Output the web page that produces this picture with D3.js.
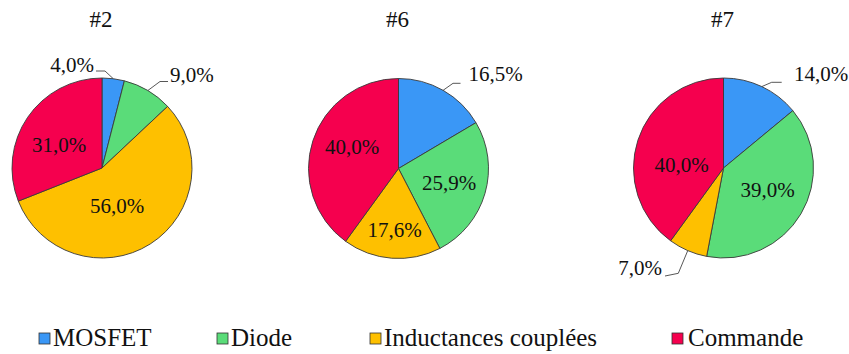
<!DOCTYPE html>
<html>
<head>
<meta charset="utf-8">
<script src="https://cdn.jsdelivr.net/npm/d3@7/dist/d3.min.js"></script>
</head>
<body style="margin:0; background:#fff">
<svg id="chart" width="849" height="354" style="display:block"></svg>
<script>
// Component categories (slice order, clockwise from 12 o'clock)
const categories = ["MOSFET", "Diode", "Inductances couplées", "Commande"];
const colors = ["#3a97f6", "#5adc79", "#fec000", "#f5004e"];

// Share of each component (%) for the three configurations
const titles = ["#2", "#6", "#7"];
const values2 = [4.0, 9.0, 56.0, 31.0];
const values6 = [16.5, 25.9, 17.6, 40.0];
const values7 = [14.0, 39.0, 7.0, 40.0];
const seriesValues = [values2, values6, values7];

// Layout
const radius = 90;
const centers = [[102, 168], [398.5, 168.5], [723.5, 168]];

// Label placement per slice: inside labels give an offset from the pie centre,
// outside labels give a text anchor and a leader-line elbow/end (offsets from centre)
const labelPlacement = [
  [
    { out: true, text: [-8, -96], anchor: "end", elbow: [3, -97], end: [-6, -97] },
    { out: true, text: [68, -86], anchor: "start", elbow: [58, -86.5], end: [66, -86.5] },
    { pos: [15, 38] },
    { pos: [-43, -23] }
  ],
  [
    { out: true, text: [70, -88], anchor: "start", elbow: [54.5, -85.2], end: [62, -85.2] },
    { pos: [50.5, 14.5] },
    { pos: [-4, 61.5] },
    { pos: [-46.5, -21.8] }
  ],
  [
    { out: true, text: [70.5, -87.5], anchor: "start", elbow: [48.2, -85.7], end: [58.2, -85.7] },
    { pos: [44, 22] },
    { out: true, text: [-61.5, 107], anchor: "end", elbow: [-45.2, 105.3], end: [-58.5, 108] },
    { pos: [-42, -3] }
  ]
];

const fmt = v => d3.format(".1f")(v).replace(".", ",") + "%";

const svg = d3.select("#chart");
const color = d3.scaleOrdinal().domain(categories).range(colors);

const pie = d3.pie().sort(null).value(d => d.value);
const arc = d3.arc().innerRadius(0).outerRadius(radius);

function addText(sel, size) {
  return sel.append("text")
    .attr("font-size", size)
    .attr("fill", "#111")
    .style("font-family", `"Liberation Serif"`);
}

seriesValues.forEach((vals, i) => {
  const [cx, cy] = centers[i];
  const g = svg.append("g").attr("transform", `translate(${cx},${cy})`);
  const data = categories.map((c, k) => ({ cat: c, value: vals[k] }));
  const arcs = pie(data);

  // title
  addText(svg, 23)
    .attr("x", cx - 1)
    .attr("y", 27)
    .attr("text-anchor", "middle")
    .text(titles[i]);

  // slices
  g.selectAll("path.slice")
    .data(arcs)
    .join("path")
    .attr("class", "slice")
    .attr("d", arc)
    .attr("fill", d => color(d.data.cat))
    .attr("stroke", "#3a3a3a")
    .attr("stroke-width", 0.9);

  // labels
  arcs.forEach((a, k) => {
    const lp = labelPlacement[i][k];
    const label = fmt(a.data.value);
    if (lp.out) {
      const mid = (a.startAngle + a.endAngle) / 2;
      const edge = [radius * Math.sin(mid), -radius * Math.cos(mid)];
      g.append("path")
        .attr("d", d3.line()([edge, lp.elbow, lp.end]))
        .attr("fill", "none")
        .attr("stroke", "#444")
        .attr("stroke-width", 0.9);
      addText(g, 21)
        .attr("x", lp.text[0])
        .attr("y", lp.text[1])
        .attr("text-anchor", lp.anchor)
        .text(label);
    } else {
      addText(g, 21)
        .attr("x", lp.pos[0])
        .attr("y", lp.pos[1])
        .attr("dy", "0.34em")
        .attr("text-anchor", "middle")
        .text(label);
    }
  });
});

// legend
const legendX = [39, 217, 370, 672];
const legend = svg.append("g");
categories.forEach((c, k) => {
  const lg = legend.append("g").attr("transform", `translate(${legendX[k]},333)`);
  lg.append("rect")
    .attr("width", 11).attr("height", 11)
    .attr("fill", color(c))
    .attr("stroke", "#333")
    .attr("stroke-width", 0.8);
  addText(lg, 25)
    .attr("x", k === 3 ? 16 : 14)
    .attr("y", 13)
    .text(c);
});
</script>
</body>
</html>
